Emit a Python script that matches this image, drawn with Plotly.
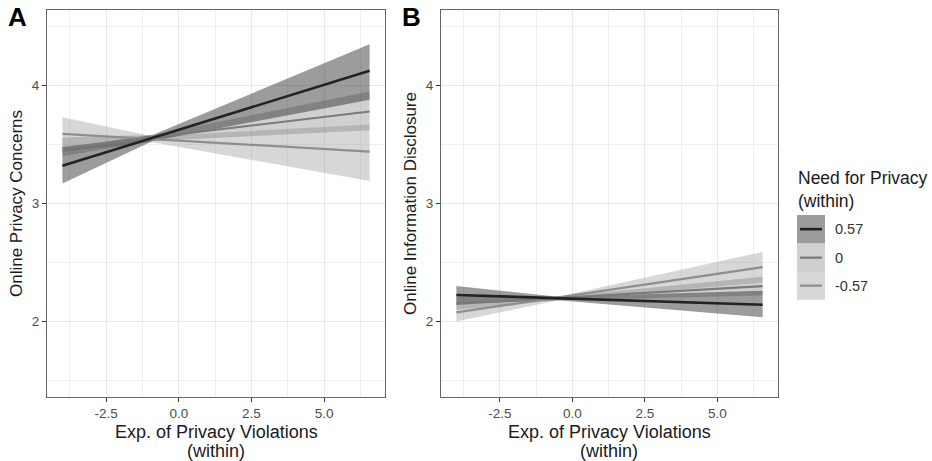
import plotly.graph_objects as go

# ---------------- data ----------------
levels = ["0.57", "0", "-0.57"]
x_fit = [-4.0, 6.56]

# Panel A: Online Privacy Concerns
A_fit = {"0.57": [3.32, 4.125], "0": [3.47, 3.78], "-0.57": [3.59, 3.44]}
A_ci_x = [-4.0, -0.9, 6.56]
A_lo = {"0.57": [3.17, 3.53, 3.88], "0": [3.40, 3.53, 3.62], "-0.57": [3.44, 3.52, 3.19]}
A_hi = {"0.57": [3.47, 3.58, 4.35], "0": [3.56, 3.58, 3.95], "-0.57": [3.73, 3.57, 3.67]}

# Panel B: Online Information Disclosure
B_fit = {"0.57": [2.225, 2.142], "0": [2.15, 2.30], "-0.57": [2.077, 2.46]}
B_ci_x = [-4.0, -0.5, 6.56]
B_lo = {"0.57": [2.15, 2.18, 2.035], "0": [2.10, 2.18, 2.22], "-0.57": [2.00, 2.18, 2.33]}
B_hi = {"0.57": [2.30, 2.21, 2.26], "0": [2.21, 2.21, 2.38], "-0.57": [2.16, 2.21, 2.59]}

x_ticks = [-2.5, 0.0, 2.5, 5.0]
x_ticklabels = ["-2.5", "0.0", "2.5", "5.0"]
y_ticks = [2, 3, 4]

# ---------------- styles ----------------
FONT = "Liberation Sans, Arial, Helvetica, sans-serif"
band_col = {"0.57": "rgba(40,40,40,0.46)", "0": "rgba(110,110,110,0.32)", "-0.57": "rgba(150,150,150,0.38)"}
line_col = {"0.57": "#222222", "0": "#7a7a7a", "-0.57": "#8e8e8e"}
line_w = {"0.57": 2.6, "0": 2.2, "-0.57": 2.2}

fig = go.Figure()

def add_panel(fit, cix, lo, hi, xa, ya):
    for lev in ["-0.57", "0", "0.57"]:
        fig.add_trace(go.Scatter(
            x=list(cix) + list(cix)[::-1], y=list(hi[lev]) + list(lo[lev])[::-1],
            fill="toself", fillcolor=band_col[lev], line=dict(width=0),
            mode="lines", hoverinfo="skip", showlegend=False, xaxis=xa, yaxis=ya))
    for lev in ["-0.57", "0", "0.57"]:
        fig.add_trace(go.Scatter(
            x=x_fit, y=fit[lev], mode="lines",
            line=dict(color=line_col[lev], width=line_w[lev]),
            name=lev, showlegend=False, xaxis=xa, yaxis=ya))

add_panel(A_fit, A_ci_x, A_lo, A_hi, "x", "y")
add_panel(B_fit, B_ci_x, B_lo, B_hi, "x2", "y2")

W, H = 932, 461
ybot, ytop = 1 - 397 / H, 1 - 10 / H

def xaxis(dom, anchor):
    return dict(domain=dom, anchor=anchor, range=[-4.53, 7.09],
                tickvals=x_ticks, ticktext=x_ticklabels,
                ticks="outside", ticklen=4, tickcolor="#333", tickwidth=1,
                tickfont=dict(family=FONT, size=13.5, color="#4d4d4d"),
                showgrid=True, gridcolor="#e8e8e8", gridwidth=1,
                minor=dict(tickvals=[-3.75, -1.25, 1.25, 3.75, 6.25], showgrid=True,
                           gridcolor="#efefef", gridwidth=1, ticks=""),
                showline=True, linecolor="#666", linewidth=1, mirror=True,
                zeroline=False)

def yaxis(anchor):
    return dict(domain=[ybot, ytop], anchor=anchor, range=[1.36, 4.64],
                tickvals=y_ticks, ticktext=[str(v) for v in y_ticks],
                ticks="outside", ticklen=4, tickcolor="#333", tickwidth=1,
                tickfont=dict(family=FONT, size=13.5, color="#4d4d4d"),
                showgrid=True, gridcolor="#e8e8e8", gridwidth=1,
                minor=dict(tickvals=[1.5, 2.5, 3.5, 4.5], showgrid=True,
                           gridcolor="#efefef", gridwidth=1, ticks=""),
                showline=True, linecolor="#666", linewidth=1, mirror=True,
                zeroline=False)

fig.update_layout(
    width=W, height=H,
    margin=dict(l=0, r=0, t=0, b=0),
    paper_bgcolor="white", plot_bgcolor="white",
    xaxis=xaxis([47 / W, 385 / W], "y"),
    yaxis=yaxis("x"),
    xaxis2=xaxis([441 / W, 778 / W], "y2"),
    yaxis2=yaxis("x2"),
    showlegend=False,
)

def px(x):
    return x / W

def py(y):
    return 1 - y / H

ann = []
# panel letters
ann.append(dict(x=px(6), y=py(17), text="<b>A</b>", font=dict(family=FONT, size=26, color="black"),
                xanchor="left", yanchor="middle", showarrow=False, xref="paper", yref="paper"))
ann.append(dict(x=px(400), y=py(17), text="<b>B</b>", font=dict(family=FONT, size=26, color="black"),
                xanchor="left", yanchor="middle", showarrow=False, xref="paper", yref="paper"))
# x titles (two lines)
for cx in [216, 609]:
    ann.append(dict(x=px(cx), y=py(432), text="Exp. of Privacy Violations",
                    font=dict(family=FONT, size=18, color="#1a1a1a"),
                    xanchor="center", yanchor="middle", showarrow=False, xref="paper", yref="paper"))
    ann.append(dict(x=px(cx), y=py(451), text="(within)",
                    font=dict(family=FONT, size=18, color="#1a1a1a"),
                    xanchor="center", yanchor="middle", showarrow=False, xref="paper", yref="paper"))
# y titles
ann.append(dict(x=px(16), y=py(204), text="Online Privacy Concerns", textangle=-90,
                font=dict(family=FONT, size=17, color="#1a1a1a"),
                xanchor="center", yanchor="middle", showarrow=False, xref="paper", yref="paper"))
ann.append(dict(x=px(410), y=py(204), text="Online Information Disclosure", textangle=-90,
                font=dict(family=FONT, size=17, color="#1a1a1a"),
                xanchor="center", yanchor="middle", showarrow=False, xref="paper", yref="paper"))
# legend title
ann.append(dict(x=px(796), y=py(189), text="Need for Privacy<br>(within)", align="left",
                font=dict(family=FONT, size=17.5, color="#1a1a1a"),
                xanchor="left", yanchor="middle", showarrow=False, xref="paper", yref="paper"))

shapes = []
key_top = [215, 243.5, 271.5]
key_h = 28.3
for i, lev in enumerate(levels):
    t = key_top[i]
    shapes.append(dict(type="rect", xref="paper", yref="paper",
                       x0=px(797), x1=px(825), y0=py(t + key_h), y1=py(t),
                       fillcolor=band_col[lev], line=dict(width=0)))
    cy = t + key_h / 2
    shapes.append(dict(type="line", xref="paper", yref="paper",
                       x0=px(800), x1=px(822), y0=py(cy), y1=py(cy),
                       line=dict(color=line_col[lev], width=line_w[lev])))
    ann.append(dict(x=px(833), y=py(cy), text=lev, font=dict(family=FONT, size=14.5, color="#333"),
                    xanchor="left", yanchor="middle", showarrow=False, xref="paper", yref="paper"))

fig.update_layout(annotations=ann, shapes=shapes)
fig.write_html("out.html", config={"displayModeBar": False},
               post_script="document.body.style.margin='0px';document.body.style.overflow='hidden';")
